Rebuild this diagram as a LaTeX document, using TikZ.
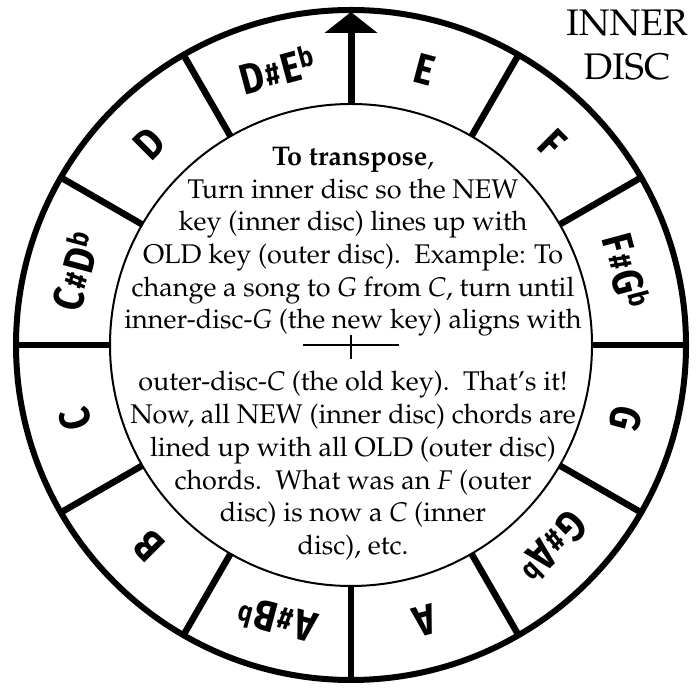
\documentclass[tikz,border=0pt]{standalone}
\usepackage[T1]{fontenc}
\usepackage{fontspec}
\usepackage{graphicx}
\newfontfamily\chordfont{Fira Sans}[FakeStretch=0.85]
\newcommand{\pal}{\usefont{T1}{ppl}{m}{n}}
\newcommand{\shp}{\kern2pt\raisebox{0.06em}{\scalebox{0.72}{\#}}\kern2pt}
\newcommand{\flt}{\kern1pt\raisebox{0.26em}{\scalebox{0.66}{b}}}
\begin{document}
\begin{tikzpicture}[x=1pt,y=1pt,
  lab/.style={font=\chordfont\bfseries\fontsize{43}{43}\selectfont, inner sep=0pt},
  txt/.style={anchor=base, inner sep=0pt, font=\pal\fontsize{27}{32}\selectfont},
  title/.style={anchor=base, inner sep=0pt, font=\pal\fontsize{37}{44}\selectfont},
  ring/.style={line width=6pt},
  divider/.style={line width=6.5pt}]
\useasboundingbox (0,0) rectangle (700,687);
\coordinate (O) at (351,342);
% discs
\draw[ring] (O) circle (335);
\draw[line width=2pt] (O) circle (241);
% dividers
\foreach \a in {0,30,60,120,150,180,210,240,270,300,330}
  \draw[divider] ([shift={(\a:241)}]O) -- ([shift={(\a:335)}]O);
% pointer arrow
\draw[line width=7pt] ([shift={(90:241)}]O) -- ([shift={(90:314)}]O);
\fill ([shift={(-26.5,312)}]O) -- ([shift={(26.5,312)}]O) -- ([shift={(0,333)}]O) -- cycle;
% chord labels
\node[lab, rotate=-15] (kE) at ([shift={(75:285)}]O) {E};
\node[lab, rotate=15] (kDs) at ([shift={(105:285)}]O) {D\shp E\flt};
\node[lab, rotate=45] (kD) at ([shift={(135:285)}]O) {D};
\node[lab, rotate=75] (kCs) at ([shift={(165:285)}]O) {C\shp D\flt};
\node[lab, rotate=105] (kC) at ([shift={(195:285)}]O) {C};
\node[lab, rotate=135] (kB) at ([shift={(225:285)}]O) {B};
\node[lab, rotate=165] (kAs) at ([shift={(255:285)}]O) {A\shp B\flt};
\node[lab, rotate=195] (kA) at ([shift={(285:285)}]O) {A};
\node[lab, rotate=225] (kGs) at ([shift={(315:285)}]O) {G\shp A\flt};
\node[lab, rotate=255] (kG) at ([shift={(345:285)}]O) {G};
\node[lab, rotate=-75] (kFs) at ([shift={(15:285)}]O) {F\shp G\flt};
\node[lab, rotate=-45] (kF) at ([shift={(45:285)}]O) {F};
% title
\node[title] (t1) at (627,651) {INNER};
\node[title] (t2) at (627,607) {DISC};
% instructions
\node[txt] (l1) at (353,521.5) {{\fontseries{b}\selectfont To transpose},};
\node[txt] (l2) at (353,488.8) {Turn inner disc so the NEW};
\node[txt] (l3) at (353,456.1) {key (inner disc) lines up with};
\node[txt] (l4) at (353,423.4) {OLD key (outer disc).\ \ Example: To};
\node[txt] (l5) at (353,390.7) {change a song to \textit{G} from \textit{C}, turn until};
\node[txt] (l6) at (353,358) {inner-disc-\textit{G} (the new key) aligns with};
\node[txt] (l7) at (353,296) {outer-disc-\textit{C} (the old key).\ \ That's it!};
\node[txt] (l8) at (353,263.3) {Now, all NEW (inner disc) chords are};
\node[txt] (l9) at (353,230.6) {lined up with all OLD (outer disc)};
\node[txt] (l10) at (353,197.9) {chords.\ \ What was an \textit{F} (outer};
\node[txt] (l11) at (353,165.2) {disc) is now a \textit{C} (inner};
\node[txt] (l12) at (353,132.5) {disc), etc.};
% crosshair
\coordinate (hL) at (303,342);
\coordinate (hR) at (399,342);
\coordinate (vT) at (351,352);
\coordinate (vB) at (351,328);
\draw[line width=2.5pt] (hL) -- (hR);
\draw[line width=2.5pt] (vT) -- (vB);
\end{tikzpicture}
\end{document}
